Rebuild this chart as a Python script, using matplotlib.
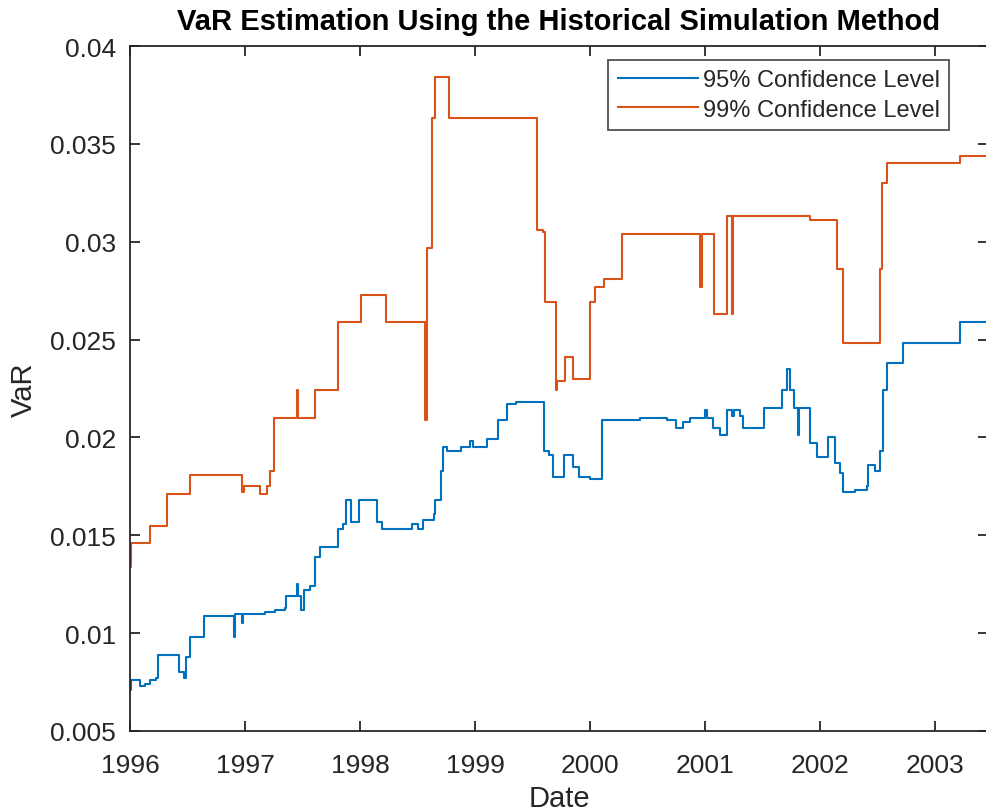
import matplotlib
matplotlib.use("Agg")
import matplotlib.pyplot as plt

# 95% VaR, step breakpoints (fractional year, value)
years_95 = [1996.00, 1996.01, 1996.087, 1996.13, 1996.17, 1996.23, 1996.246, 1996.35,
            1996.43, 1996.47, 1996.486, 1996.52, 1996.64, 1996.90, 1996.91, 1996.97,
            1996.98, 1997.09, 1997.17, 1997.26, 1997.35, 1997.36, 1997.45, 1997.46,
            1997.49, 1997.51, 1997.565, 1997.61, 1997.65, 1997.81, 1997.85, 1997.88,
            1997.92, 1997.99, 1998.145, 1998.19, 1998.45, 1998.50, 1998.55, 1998.64,
            1998.65, 1998.70, 1998.72, 1998.76, 1998.88, 1998.96, 1998.98, 1999.10,
            1999.20, 1999.28, 1999.36, 1999.60, 1999.64, 1999.68, 1999.77, 1999.85,
            1999.90, 2000.00, 2000.10, 2000.43, 2000.67, 2000.75, 2000.81, 2000.87,
            2001.00, 2001.02, 2001.07, 2001.13, 2001.19, 2001.23, 2001.25, 2001.30,
            2001.33, 2001.51, 2001.67, 2001.71, 2001.74, 2001.77, 2001.81, 2001.82,
            2001.91, 2001.97, 2002.07, 2002.13, 2002.17, 2002.20, 2002.30, 2002.41,
            2002.42, 2002.48, 2002.52, 2002.55, 2002.585, 2002.72, 2003.22, 2003.46]
var_95 = [0.0071, 0.0076, 0.0073, 0.0074, 0.0076, 0.0077, 0.0089, 0.0089,
          0.0080, 0.0077, 0.0088, 0.0098, 0.0109, 0.0098, 0.0110, 0.0105,
          0.0110, 0.0110, 0.0111, 0.0112, 0.0113, 0.0119, 0.0125, 0.0119,
          0.0112, 0.0122, 0.0124, 0.0139, 0.0144, 0.0153, 0.0156, 0.0168,
          0.0157, 0.0168, 0.0157, 0.0153, 0.0156, 0.0153, 0.0158, 0.0161,
          0.0168, 0.0183, 0.0195, 0.0193, 0.0195, 0.0198, 0.0195, 0.0199,
          0.0209, 0.0217, 0.0218, 0.0193, 0.0191, 0.0180, 0.0191, 0.0185,
          0.0180, 0.0179, 0.0209, 0.0210, 0.0209, 0.0205, 0.0208, 0.0210,
          0.0214, 0.0210, 0.0205, 0.0201, 0.0214, 0.0211, 0.0214, 0.0211,
          0.0205, 0.0215, 0.0224, 0.0235, 0.0224, 0.0215, 0.0201, 0.0215,
          0.0197, 0.0190, 0.0200, 0.0187, 0.0182, 0.0172, 0.0173, 0.0175,
          0.0186, 0.0183, 0.0193, 0.0224, 0.0238, 0.0248, 0.0259, 0.0259]

# 99% VaR, step breakpoints
years_99 = [1996.00, 1996.01, 1996.17, 1996.32, 1996.52, 1996.97, 1996.99, 1997.13,
            1997.19, 1997.22, 1997.25, 1997.45, 1997.465, 1997.61, 1997.81, 1998.01,
            1998.23, 1998.565, 1998.58, 1998.63, 1998.65, 1998.77, 1999.54, 1999.59,
            1999.61, 1999.70, 1999.71, 1999.78, 1999.855, 2000.00, 2000.04, 2000.12,
            2000.28, 2000.96, 2000.97, 2001.08, 2001.19, 2001.23, 2001.245, 2001.91,
            2002.145, 2002.20, 2002.52, 2002.54, 2002.585, 2003.22, 2003.46]
var_99 = [0.0134, 0.0146, 0.0155, 0.0171, 0.0181, 0.0172, 0.0175, 0.0171,
          0.0175, 0.0183, 0.0210, 0.0224, 0.0210, 0.0224, 0.0259, 0.0273,
          0.0259, 0.0209, 0.0297, 0.0363, 0.0384, 0.0363, 0.0306, 0.0305,
          0.0269, 0.0224, 0.0229, 0.0241, 0.0230, 0.0269, 0.0277, 0.0281,
          0.0304, 0.0277, 0.0304, 0.0263, 0.0313, 0.0263, 0.0313, 0.0311,
          0.0286, 0.0248, 0.0286, 0.0330, 0.0340, 0.0344, 0.0344]

x_ticks = [1996, 1997, 1998, 1999, 2000, 2001, 2002, 2003]
y_ticks = [0.005, 0.01, 0.015, 0.02, 0.025, 0.03, 0.035, 0.04]
y_labels = ['0.005', '0.01', '0.015', '0.02', '0.025', '0.03', '0.035', '0.04']

plt.rcParams['font.family'] = ['Liberation Sans', 'DejaVu Sans']
text_color = '#262626'

fig = plt.figure(figsize=(9.86, 8.12), dpi=100)
ax = fig.add_axes([130 / 986, 80 / 812, 858 / 986, 685 / 812])

ax.plot(years_95, var_95, drawstyle='steps-post', color='#0072BD', lw=1.5,
        label='95% Confidence Level')
ax.plot(years_99, var_99, drawstyle='steps-post', color='#D95319', lw=1.5,
        label='99% Confidence Level')

ax.set_xlim(1996, 2003.46)
ax.set_ylim(0.005, 0.04)
ax.set_xticks(x_ticks)
ax.set_xticklabels([str(y) for y in x_ticks])
ax.set_yticks(y_ticks)
ax.set_yticklabels(y_labels)

for s in ax.spines.values():
    s.set_color(text_color)
    s.set_linewidth(1.3)
ax.tick_params(direction='in', length=7, width=1.3, colors=text_color,
               labelsize=19, top=True, right=True)
ax.tick_params(axis='x', pad=16)
ax.tick_params(axis='y', pad=10)

ax.set_title('VaR Estimation Using the Historical Simulation Method',
             fontsize=21, fontweight='bold', color='black', pad=12)
ax.set_xlabel('Date', fontsize=21, color=text_color, labelpad=5)
ax.set_ylabel('VaR', fontsize=21, color=text_color, labelpad=9)

leg = ax.legend(loc='upper right', fontsize=17, frameon=True, fancybox=False,
                handlelength=3.4, handletextpad=0.2, borderpad=0.4, labelspacing=0.3,
                borderaxespad=0)
leg.set_bbox_to_anchor(((949 - 130) / 858, 1 - 14 / 685), transform=ax.transAxes)
leg.get_frame().set_edgecolor(text_color)
leg.get_frame().set_linewidth(1.3)
for t in leg.get_texts():
    t.set_color(text_color)

plt.savefig('out.png', dpi=100, facecolor='white')
